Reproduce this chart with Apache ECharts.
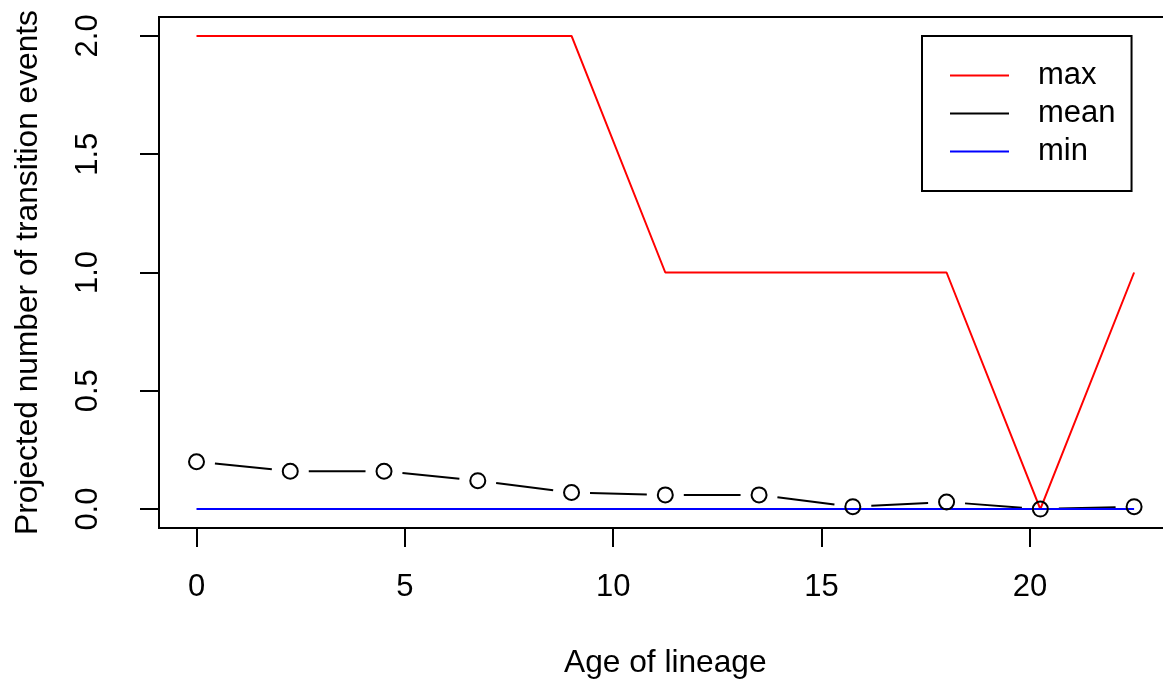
<!DOCTYPE html>
<html>
<head>
<meta charset="utf-8">
<script src="https://cdn.jsdelivr.net/npm/echarts@6/dist/echarts.min.js"></script>
<style>
html,body{margin:0;padding:0;background:#fff;}
#chart{width:1163px;height:682px;}
</style>
</head>
<body>
<div id="chart"></div>
<script>
// ---- data ----
const ages     = [0, 2.25, 4.5, 6.75, 9, 11.25, 13.5, 15.75, 18, 20.25, 22.5];
const maxVals  = [2, 2, 2, 2, 2, 1, 1, 1, 1, 0, 1];
const meanVals = [0.20, 0.16, 0.16, 0.12, 0.07, 0.06, 0.06, 0.01, 0.03, 0.00, 0.01];
const minVals  = [0, 0, 0, 0, 0, 0, 0, 0, 0, 0, 0];
const xTicks   = [0, 5, 10, 15, 20];
const yTicks   = [0, 0.5, 1, 1.5, 2];
const xTitle   = 'Age of lineage';
const yTitle   = 'Projected number of transition events';

const FONT = '"Liberation Sans", Arial, Helvetica, sans-serif';
const FS = 31;
const FS_TITLE = 31.7;

function pairs(xs, ys){ return xs.map((x,i)=>[x, ys[i]]); }

const chart = echarts.init(document.getElementById('chart'), null, {renderer:'canvas'});

const GAP = 18.5;
const option = {
  animation: false,
  backgroundColor: '#fff',
  textStyle: {fontFamily: FONT},
  grid: {
    left: 159, top: 17, width: 1012.6, height: 511,
    show: true, borderColor: '#000', borderWidth: 2, backgroundColor: 'transparent',
    containLabel: false, outerBoundsMode: 'none'
  },
  legend: {
    orient: 'vertical',
    left: 922, top: 36,
    padding: [24, 16, 24, 28],
    borderColor: '#000', borderWidth: 2,
    backgroundColor: '#fff',
    itemWidth: 59, itemHeight: 2,
    itemGap: 7,
    selectedMode: false,
    textStyle: {fontFamily: FONT, fontSize: FS, color: '#000', lineHeight: 30, padding: [0,0,0,24]},
    data: [
      {name: 'max',  icon: 'rect'},
      {name: 'mean', icon: 'rect'},
      {name: 'min',  icon: 'rect'}
    ]
  },
  xAxis: {
    type: 'value', min: -0.9, max: 23.4,
    splitLine: {show: false},
    axisLine: {show: false, onZero: false},
    axisTick: {show: true, length: 19, inside: false, customValues: xTicks,
               lineStyle: {color: '#000', width: 2}},
    axisLabel: {show: true, customValues: xTicks, margin: 44, fontSize: FS, color: '#000',
                fontFamily: FONT, formatter: v => String(v)},
    name: xTitle, nameLocation: 'middle', nameGap: 119,
    nameTextStyle: {fontSize: FS_TITLE, color: '#000', fontFamily: FONT}
  },
  yAxis: {
    type: 'value', min: -0.08, max: 2.08,
    splitLine: {show: false},
    axisLine: {show: false, onZero: false},
    axisTick: {show: true, length: 19, inside: false, customValues: yTicks,
               lineStyle: {color: '#000', width: 2}},
    axisLabel: {show: true, customValues: yTicks, margin: 55, rotate: 90, fontSize: FS, color: '#000',
                fontFamily: FONT, formatter: v => v.toFixed(1)},
    name: yTitle, nameLocation: 'middle', nameGap: 115, nameRotate: 90,
    nameTextStyle: {fontSize: FS_TITLE, color: '#000', fontFamily: FONT}
  },
  series: [
    {
      name: 'max', type: 'line', data: pairs(ages, maxVals),
      showSymbol: false, symbol: 'none', color: '#ff0000',
      itemStyle: {color: '#ff0000'},
      lineStyle: {color: '#ff0000', width: 2}, z: 3
    },
    {
      name: 'mean', type: 'custom', data: pairs(ages, meanVals),
      color: '#000', itemStyle: {color: '#000'},
      encode: {x: 0, y: 1}, z: 2,
      renderItem: function(params, api){
        const i = params.dataIndex;
        if (i >= ages.length - 1) return null;
        const p0 = api.coord([ages[i], meanVals[i]]);
        const p1 = api.coord([ages[i+1], meanVals[i+1]]);
        const dx = p1[0]-p0[0], dy = p1[1]-p0[1];
        const d = Math.sqrt(dx*dx+dy*dy);
        if (d <= 2*GAP) return null;
        const ux = dx/d, uy = dy/d;
        return {
          type: 'line',
          shape: {x1: p0[0]+ux*GAP, y1: p0[1]+uy*GAP, x2: p1[0]-ux*GAP, y2: p1[1]-uy*GAP},
          style: {stroke: '#000', lineWidth: 2}
        };
      }
    },
    {
      name: 'meanPoints', type: 'scatter', data: pairs(ages, meanVals),
      symbol: 'circle', symbolSize: 15,
      itemStyle: {color: 'rgba(0,0,0,0)', borderColor: '#000', borderWidth: 2, opacity: 1}, z: 4
    },
    {
      name: 'min', type: 'line', data: pairs(ages, minVals),
      showSymbol: false, symbol: 'none', color: '#0000ff',
      itemStyle: {color: '#0000ff'},
      lineStyle: {color: '#0000ff', width: 2}, z: 3
    }
  ]
};
chart.setOption(option);
</script>
</body>
</html>
